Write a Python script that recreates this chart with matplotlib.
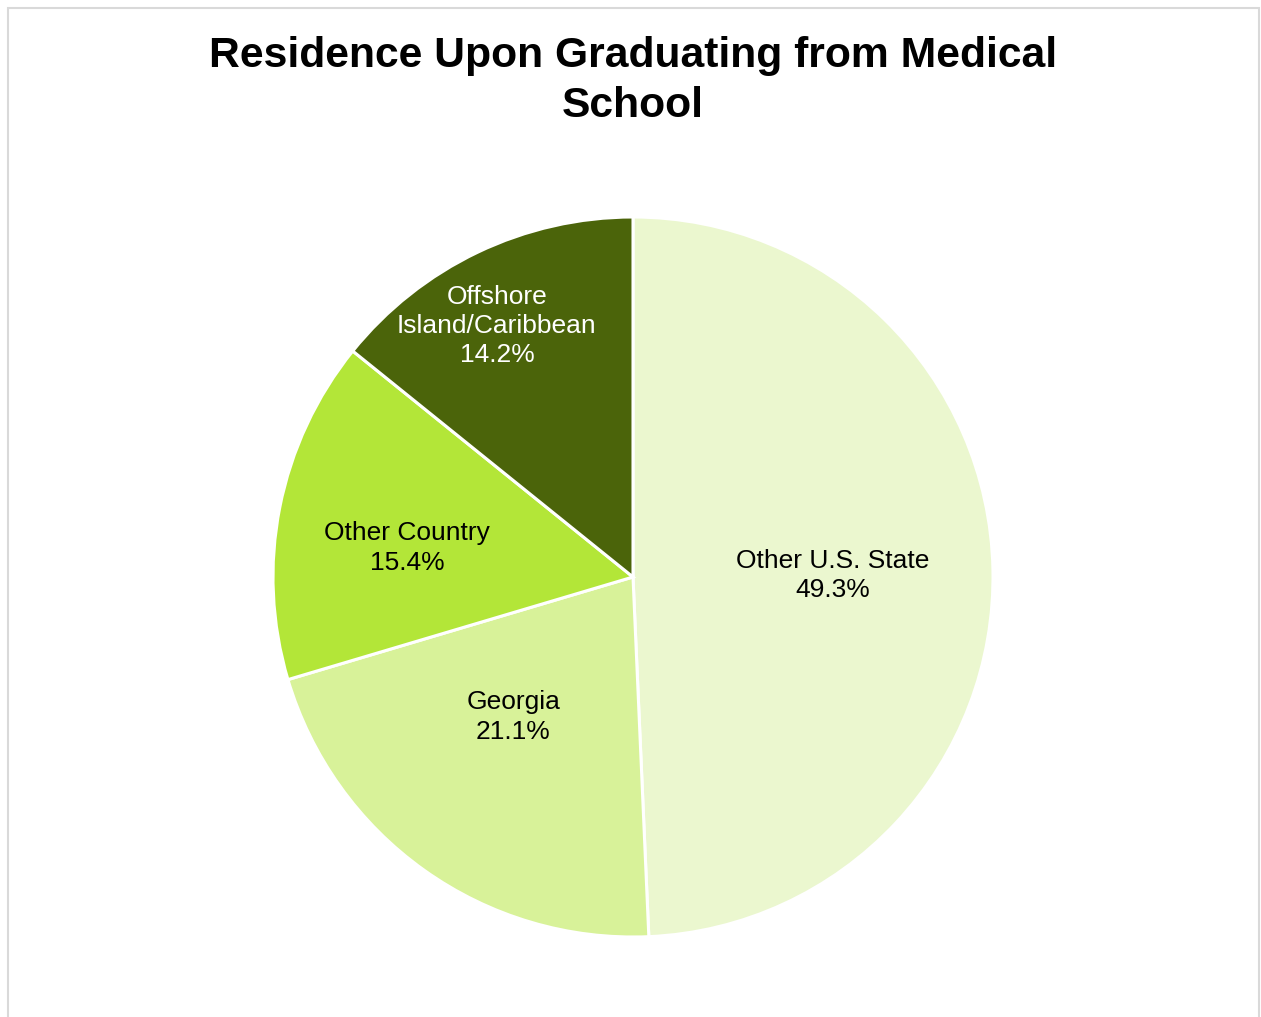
import matplotlib.pyplot as plt
from matplotlib.patches import Rectangle

plt.rcParams['font.family'] = ['Liberation Sans', 'DejaVu Sans']

labels = ['Other U.S. State', 'Georgia', 'Other Country', 'Offshore\nIsland/Caribbean']
values = [49.3, 21.1, 15.4, 14.2]
colors = ['#EBF7CF', '#D8F299', '#B3E638', '#4B640A']
text_colors = ['black', 'black', 'black', 'white']
# label positions in units of the pie radius (best-fit style placement)
label_pos = [(0.556, 0.005), (-0.333, -0.389), (-0.628, 0.081), (-0.378, 0.697)]

fig = plt.figure(figsize=(12.61, 10.17), dpi=100)
W, H = 1261, 1017
cx, cy, r = 633, 1017 - 577, 360
ax = fig.add_axes([(cx - r) / W, (cy - r) / H, 2 * r / W, 2 * r / H])

wedges, _ = ax.pie(values, colors=colors, startangle=90, counterclock=False,
                   radius=1, wedgeprops=dict(edgecolor='white', linewidth=2.2))
ax.set_xlim(-1, 1)
ax.set_ylim(-1, 1)
ax.set_aspect('equal')
ax.axis('off')

for lab, v, (lx, ly), tc in zip(labels, values, label_pos, text_colors):
    ax.text(lx, ly, f'{lab}\n{v:.1f}%', ha='center', va='center', fontsize=19,
            color=tc, linespacing=1.28)

fig.text(633 / W, 1 - 81 / H, 'Residence Upon Graduating from Medical\nSchool',
         ha='center', va='center', fontsize=30.7, fontweight='bold', linespacing=1.3)

# chart frame
fig.patches.append(Rectangle((7.5 / W, -0.05), (1259 - 7.5) / W, 1.05 - 7.5 / H,
                             transform=fig.transFigure, fill=False,
                             edgecolor='#D9D9D9', linewidth=1.5))

fig.savefig('out.png', dpi=100)
